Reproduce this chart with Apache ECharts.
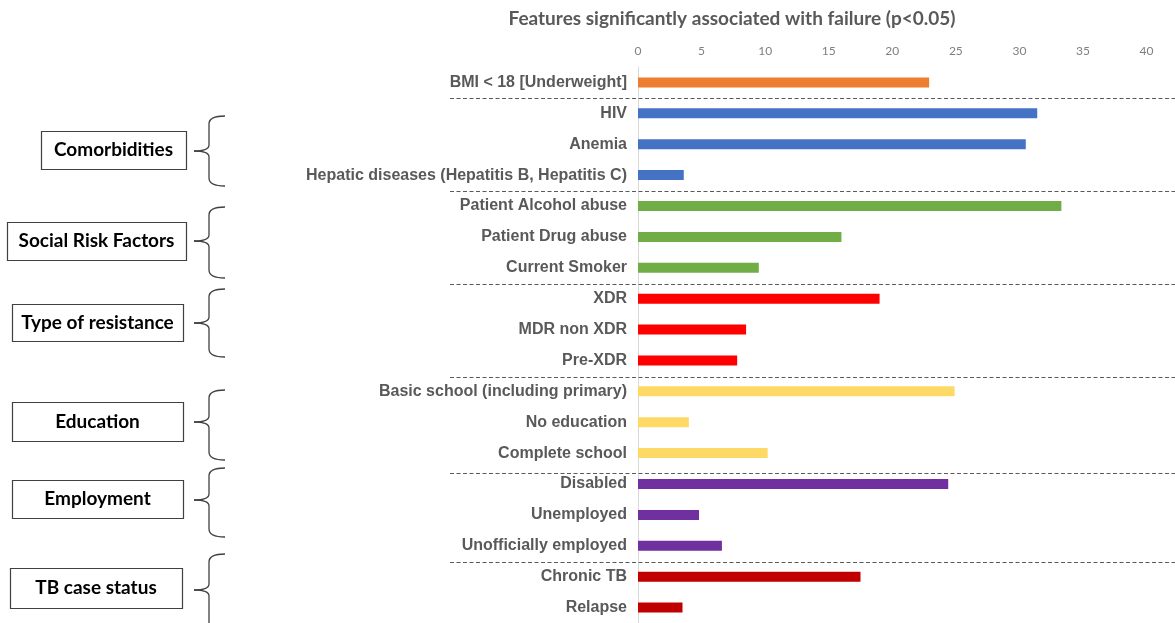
<!DOCTYPE html>
<html>
<head>
<meta charset="utf-8">
<script src="https://cdn.jsdelivr.net/npm/echarts@6/dist/echarts.min.js"></script>
<style>
html,body{margin:0;padding:0;background:#fff;}
#main{width:1175px;height:623px;}
</style>
</head>
<body>
<div id="main"></div>
<script>
// ---- data ----
var categories = [
  'BMI < 18 [Underweight]',
  'HIV', 'Anemia', 'Hepatic diseases (Hepatitis B, Hepatitis C)',
  'Patient Alcohol abuse', 'Patient Drug abuse', 'Current Smoker',
  'XDR', 'MDR non XDR', 'Pre-XDR',
  'Basic school (including primary)', 'No education', 'Complete school',
  'Disabled', 'Unemployed', 'Unofficially employed',
  'Chronic TB', 'Relapse'
];
var values = [
  22.9,
  31.4, 30.5, 3.6,
  33.3, 16.0, 9.5,
  19.0, 8.5, 7.8,
  24.9, 4.0, 10.2,
  24.4, 4.8, 6.6,
  17.5, 3.5
];
var categoryGroup = [
  'BMI',
  'Comorbidities', 'Comorbidities', 'Comorbidities',
  'Social Risk Factors', 'Social Risk Factors', 'Social Risk Factors',
  'Type of resistance', 'Type of resistance', 'Type of resistance',
  'Education', 'Education', 'Education',
  'Employment', 'Employment', 'Employment',
  'TB case status', 'TB case status'
];
var groupLabels = ['Comorbidities', 'Social Risk Factors', 'Type of resistance', 'Education', 'Employment', 'TB case status'];
var xTicks = [0, 5, 10, 15, 20, 25, 30, 35, 40];
var titleText = 'Features significantly associated with failure (p<0.05)';

// ---- styles ----
var groupColors = {
  'BMI': '#ED7D31',
  'Comorbidities': '#4472C4',
  'Social Risk Factors': '#70AD47',
  'Type of resistance': '#FF0000',
  'Education': '#FFD966',
  'Employment': '#7030A0',
  'TB case status': '#C00000'
};
// separator pixel nudges (keyed by the group that starts below the line)
var sepNudge = {'Employment': 4, 'TB case status': 1, 'Education': 1, 'Type of resistance': 1};
// annotation layout (box and brace geometry, pixels)
var annLayout = {
  'Comorbidities':      {bx: 41, bw: 145, by: 131, bh: 38, top: 116, bottom: 186, tip: 151},
  'Social Risk Factors':{bx: 7,  bw: 179, by: 222, bh: 38, top: 207, bottom: 278, tip: 241},
  'Type of resistance': {bx: 12, bw: 171, by: 304, bh: 37, top: 289, bottom: 357, tip: 323},
  'Education':          {bx: 12, bw: 171, by: 402, bh: 39, top: 390, bottom: 460, tip: 422},
  'Employment':         {bx: 12, bw: 171, by: 480, bh: 38, top: 468, bottom: 537, tip: 500},
  'TB case status':     {bx: 10, bw: 172, by: 568, bh: 40, top: 554, bottom: 640, tip: 590}
};

var chart = echarts.init(document.getElementById('main'), null, {renderer: 'canvas'});

var barData = values.map(function (v, i) {
  return {value: v, itemStyle: {color: groupColors[categoryGroup[i]]}};
});

chart.setOption({
  animation: false,
  grid: {left: 638, right: 1, top: 67, bottom: -3, containLabel: false},
  xAxis: {
    type: 'value', position: 'top', min: 0, max: 42, interval: 5,
    axisLine: {show: false}, axisTick: {show: false}, splitLine: {show: false},
    axisLabel: {
      color: '#808080', fontFamily: 'Lato', fontSize: 12, margin: 10,
      formatter: function (v) { return xTicks.indexOf(v) >= 0 ? String(v) : ''; }
    }
  },
  yAxis: {
    type: 'category', data: categories, inverse: true,
    axisLine: {show: true, lineStyle: {color: '#d9d9d9', width: 1}},
    axisTick: {show: false},
    axisLabel: {color: '#595959', fontFamily: 'Liberation Sans', fontWeight: 'bold', fontSize: 16, margin: 11}
  },
  series: [{
    type: 'bar', data: barData, barWidth: 10
  }]
});

// graphics: title, separators, group boxes and braces
var graphics = [];
graphics.push({
  type: 'text', x: 732, y: 19,
  style: {text: titleText, fill: '#595959', font: 'bold 19px Lato', textAlign: 'center', textVerticalAlign: 'middle'}
});
for (var i = 0; i < categories.length - 1; i++) {
  if (categoryGroup[i] !== categoryGroup[i + 1]) {
    var y1 = chart.convertToPixel({yAxisIndex: 0}, categories[i]);
    var y2 = chart.convertToPixel({yAxisIndex: 0}, categories[i + 1]);
    var ym = Math.round((y1 + y2) / 2 + (sepNudge[categoryGroup[i + 1]] || 0)) + 0.5;
    graphics.push({
      type: 'line', shape: {x1: 450, y1: ym, x2: 1175, y2: ym},
      style: {stroke: '#5a5a5a', lineWidth: 1.2, lineDash: [4, 2.5]}, z: 10
    });
  }
}
var braceStyle = {fill: null, stroke: '#404040', lineWidth: 1.3};
groupLabels.forEach(function (g) {
  var L = annLayout[g];
  graphics.push({
    type: 'rect', shape: {x: L.bx + 0.5, y: L.by + 0.5, width: L.bw, height: L.bh},
    style: {fill: '#fff', stroke: '#404040', lineWidth: 1.2}
  });
  graphics.push({
    type: 'text', x: L.bx + L.bw / 2, y: L.by + L.bh / 2,
    style: {text: g, fill: '#000', font: 'bold 19px Lato', textAlign: 'center', textVerticalAlign: 'middle'}
  });
  var vx = 209, tx = 194, ex = 225, r = 8;
  graphics.push({type: 'bezierCurve', shape: {x1: ex, y1: L.top, cpx1: vx, cpy1: L.top, x2: vx, y2: L.top + r}, style: braceStyle});
  graphics.push({type: 'line', shape: {x1: vx, y1: L.top + r, x2: vx, y2: L.tip - 6}, style: braceStyle});
  graphics.push({type: 'bezierCurve', shape: {x1: vx, y1: L.tip - 6, cpx1: vx, cpy1: L.tip, x2: tx, y2: L.tip}, style: braceStyle});
  graphics.push({type: 'bezierCurve', shape: {x1: tx, y1: L.tip, cpx1: vx, cpy1: L.tip, x2: vx, y2: L.tip + 6}, style: braceStyle});
  graphics.push({type: 'line', shape: {x1: vx, y1: L.tip + 6, x2: vx, y2: L.bottom - r}, style: braceStyle});
  graphics.push({type: 'bezierCurve', shape: {x1: vx, y1: L.bottom - r, cpx1: vx, cpy1: L.bottom, x2: ex, y2: L.bottom}, style: braceStyle});
});
chart.setOption({graphic: graphics});
</script>
</body>
</html>
